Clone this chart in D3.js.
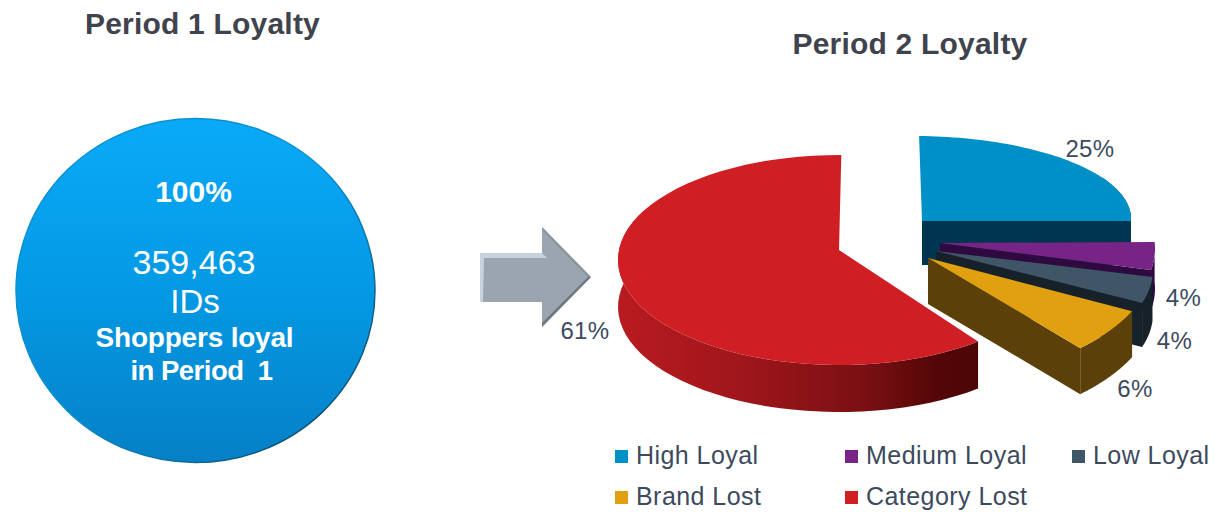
<!DOCTYPE html>
<html>
<head>
<meta charset="utf-8">
<script src="https://cdn.jsdelivr.net/npm/d3@7/dist/d3.min.js"></script>
<style>
html,body{margin:0;padding:0;background:#fff;overflow:hidden}
svg{display:block}
text{font-family:"Liberation Sans",Arial,sans-serif}
</style>
</head>
<body>
<svg id="chart" width="1215" height="512"></svg>
<script>
// Shopper loyalty migration between two periods
const segments = ["High Loyal", "Medium Loyal", "Low Loyal", "Brand Lost", "Category Lost"];
const period2Shares = [25, 4, 4, 6, 61];
const period1Share = [100];
const period1Lines = ["100%", "359,463", "IDs", "Shoppers loyal", "in Period  1"];
const titles = ["Period 1 Loyalty", "Period 2 Loyalty"];

const topColors = ["#0090c8", "#782487", "#3f5666", "#e0a010", "#d01f24"];
const wallColors = ["#003550", "#2f0a40", "#17212a", "#5b400a", "url(#redWall)"];

// Projection of each exploded wedge: apex, ellipse centre, radii, rotation and wall height
const wedgeLayout = [
  {ax: 922, ay: 221, cx: 913, cy: 218.7, rx: 218, ry: 82.7, twist: 0, depth: 44},
  {ax: 940, ay: 243, cx: 939.5, cy: 248.6, rx: 215.5, ry: 112, twist: -5, depth: 40},
  {ax: 936, ay: 251, cx: 939, cy: 269.6, rx: 214, ry: 106, twist: -12, depth: 44},
  {ax: 928, ay: 258, cx: 927, cy: 256, rx: 229, ry: 124, twist: -4, depth: 46},
  {ax: 839, ay: 250, cx: 839, cy: 260, rx: 221, ry: 105, twist: -1, depth: 47}
];
// Label anchors for the wedge percentages (text centre, baseline)
const labelLayout = [[1090, 157], [1183.5, 306], [1174.5, 349], [1135, 397], [585, 339]];
// Legend entries: swatch column and row
const legendLayout = [[615, 456], [845, 456], [1072, 456], [615, 497], [845, 497]];

const svg = d3.select("#chart");
const defs = svg.append("defs");

const rad = d3.scaleLinear().domain([0, 360]).range([0, 2 * Math.PI]);
const pie = d3.pie().sort(null).startAngle(rad(1.6)).endAngle(rad(361.6));
const arcs = pie(period2Shares);

// Horizontal shading for the curved red wall
const redGrad = defs.append("linearGradient").attr("id", "redWall")
  .attr("gradientUnits", "userSpaceOnUse").attr("x1", 618).attr("x2", 977).attr("y1", 0).attr("y2", 0);
[[0, "#b81b20"], [0.35, "#9f161b"], [0.7, "#780f12"], [0.9, "#520607"], [1, "#4d0606"]]
  .forEach(([o, c]) => redGrad.append("stop").attr("offset", o).attr("stop-color", c));

const discGrad = defs.append("linearGradient").attr("id", "disc").attr("x1", 0).attr("x2", 0).attr("y1", 0).attr("y2", 1);
[[0, "#0aaaf8"], [0.5, "#0499e4"], [1, "#0580c6"]]
  .forEach(([o, c]) => discGrad.append("stop").attr("offset", o).attr("stop-color", c));

const rimGrad = defs.append("linearGradient").attr("id", "rim").attr("x1", 0).attr("x2", 1).attr("y1", 0).attr("y2", 1);
[[0, "#0a8fd0"], [0.5, "#0a8fd0"], [1, "#123a55"]]
  .forEach(([o, c]) => rimGrad.append("stop").attr("offset", o).attr("stop-color", c));

const line = d3.line();

// Sample the rim of a wedge from its pie angles
function rimPoints(d, g, dy = 0) {
  const a0 = d.startAngle + rad(g.twist), a1 = d.endAngle + rad(g.twist);
  return d3.range(0, 61).map(i => {
    const a = a0 + (a1 - a0) * i / 60;
    return [g.cx + g.rx * Math.sin(a), g.cy - g.ry * Math.cos(a) + dy, a];
  });
}
// The far side of the rim has no visible skirt
const facesViewer = p => {
  const deg = ((p[2] * 180 / Math.PI) % 360 + 360) % 360;
  return deg > 60 && deg < 300;
};
const xy = p => [p[0], p[1]];

const wedges = svg.append("g");
arcs.forEach((d, i) => {
  const g = wedgeLayout[i];
  const rim = rimPoints(d, g);
  const low = rimPoints(d, g, g.depth);
  const apex = [g.ax, g.ay], apexLow = [g.ax, g.ay + g.depth];
  // wall: outer skirt plus the cut face turned towards the viewer
  const wall = wedges.append("g").attr("fill", wallColors[i]);
  const skirtTop = rim.filter(facesViewer).map(xy);
  const skirtLow = low.filter(facesViewer).map(xy).reverse();
  wall.append("path").attr("d", line(skirtTop.concat(skirtLow)) + "Z");
  if (i < arcs.length - 1) {
    wall.append("path").attr("d", line([apex, xy(rim[60]), xy(low[60]), apexLow]) + "Z");
  }
  wedges.append("path").attr("fill", topColors[i]).attr("d", line([apex].concat(rim.map(xy))) + "Z");
});

// Wedge percentage labels
svg.append("g").selectAll("text").data(arcs).join("text")
  .attr("x", (d, i) => labelLayout[i][0]).attr("y", (d, i) => labelLayout[i][1])
  .attr("text-anchor", "middle").attr("font-size", 24).attr("letter-spacing", 0.4).attr("fill", "#3d4a5e")
  .text(d => d.data + "%");

// Period 1 disc, a single full pie slice
const disc = d3.pie()(period1Share)[0];
svg.append("ellipse").attr("cx", 195.5).attr("cy", 290.5).attr("rx", 179.5).attr("ry", 172)
  .attr("fill", "url(#disc)").attr("stroke", "url(#rim)").attr("stroke-width", 1.5)
  .datum(disc);

const discText = [
  {x: 193.5, y: 202, size: 30, weight: "bold", spacing: 0},
  {x: 194, y: 274, size: 34, weight: "normal", spacing: 0},
  {x: 195, y: 313, size: 33, weight: "normal", spacing: 0},
  {x: 194.5, y: 347, size: 28, weight: "bold", spacing: -0.2},
  {x: 201.5, y: 380, size: 27.5, weight: "bold", spacing: -0.5}
];
svg.append("g").selectAll("text").data(period1Lines).join("text")
  .attr("x", (d, i) => discText[i].x).attr("y", (d, i) => discText[i].y)
  .attr("text-anchor", "middle").attr("fill", "#fff")
  .attr("font-size", (d, i) => discText[i].size).attr("font-weight", (d, i) => discText[i].weight)
  .attr("letter-spacing", (d, i) => discText[i].spacing)
  .style("white-space", "pre").text(d => d);

// Block arrow between the two periods
const arrow = [[480, 253], [542, 253], [542, 227], [591, 277], [542, 327], [542, 302], [480, 302]];
const arrowG = svg.append("g");
arrowG.append("path").attr("d", line(arrow) + "Z").attr("fill", "#9aa5af");
arrowG.append("path").attr("d", line([[480, 253], [542, 253], [547, 258], [484, 258], [483, 302], [480, 302]]) + "Z").attr("fill", "#c6d3dc");
arrowG.append("path").attr("d", line([[542, 227], [591, 277], [588, 277], [544, 232]]) + "Z").attr("fill", "#87939d");
arrowG.append("path").attr("d", line([[591, 277], [542, 327], [542, 323], [588, 277]]) + "Z").attr("fill", "#6d7882");

// Titles
svg.append("g").selectAll("text").data(titles).join("text")
  .attr("x", (d, i) => [202.5, 910][i]).attr("y", (d, i) => [34, 54][i])
  .attr("text-anchor", "middle").attr("font-size", 30).attr("letter-spacing", 0.2).attr("font-weight", "bold").attr("fill", "#3f434d")
  .text(d => d);

// Legend
const legend = svg.append("g").selectAll("g").data(segments).join("g")
  .attr("transform", (d, i) => `translate(${legendLayout[i][0]},${legendLayout[i][1]})`);
legend.append("rect").attr("x", 0).attr("y", -6).attr("width", 13).attr("height", 13)
  .attr("fill", (d, i) => topColors[i]);
legend.append("text").attr("x", 21).attr("y", 8).attr("font-size", 25).attr("letter-spacing", 0.45).attr("fill", "#3d4a5e").text(d => d);
</script>
</body>
</html>
